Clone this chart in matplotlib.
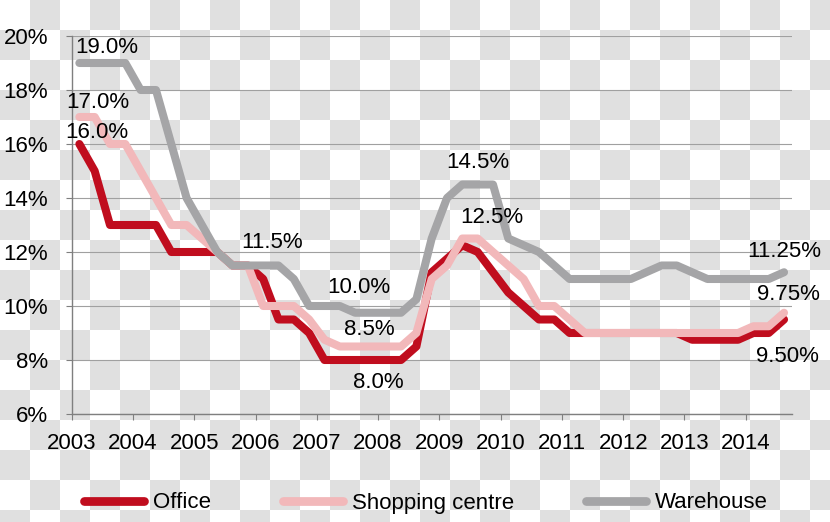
import numpy as np
import matplotlib
matplotlib.use("Agg")
import matplotlib.pyplot as plt

plt.rcParams['font.family'] = ['Liberation Sans', 'DejaVu Sans']

# quarterly prime yields, Q1 2003 .. Q3 2014
quarters = np.arange(47)
years = list(range(2003, 2015))

office = [16, 15, 13, 13, 13, 13, 12, 12, 12, 12, 11.5, 11.5, 11.0, 9.5, 9.5, 9.0,
          8.0, 8.0, 8.0, 8.0, 8.0, 8.0, 8.5, 11.25, 11.75, 12.25, 12.0, 11.25, 10.5, 10.0, 9.5, 9.5,
          9.0, 9.0, 9.0, 9.0, 9.0, 9.0, 9.0, 9.0, 8.75, 8.75, 8.75, 8.75, 9.0, 9.0, 9.5]
shopping = [17, 17, 16, 16, 15, 14, 13, 13, 12.5, 12, 11.5, 11.5, 10.0, 10.0, 10.0, 9.5,
            8.75, 8.5, 8.5, 8.5, 8.5, 8.5, 9.0, 11.0, 11.5, 12.5, 12.5, 12.0, 11.5, 11.0, 10.0, 10.0,
            9.5, 9.0, 9.0, 9.0, 9.0, 9.0, 9.0, 9.0, 9.0, 9.0, 9.0, 9.0, 9.25, 9.25, 9.75]
warehouse = [19, 19, 19, 19, 18, 18, 16, 14, 13, 12, 11.5, 11.5, 11.5, 11.5, 11.0, 10.0,
             10.0, 10.0, 9.75, 9.75, 9.75, 9.75, 10.25, 12.5, 14.0, 14.5, 14.5, 14.5, 12.5, 12.25, 12.0, 11.5,
             11.0, 11.0, 11.0, 11.0, 11.0, 11.25, 11.5, 11.5, 11.25, 11.0, 11.0, 11.0, 11.0, 11.0, 11.25]

names = ['Office', 'Shopping centre', 'Warehouse']
colors = ['#c00d1e', '#f2b8ba', '#a5a5a7']

# value labels: series, quarter, text
label_series = [2, 1, 0, 2, 2, 1, 0, 2, 1, 2, 1, 0]
label_quarter = [0, 0, 0, 12, 16, 19, 20, 26, 26, 46, 46, 46]
label_text = ['19.0%', '17.0%', '16.0%', '11.5%', '10.0%', '8.5%', '8.0%',
              '14.5%', '12.5%', '11.25%', '9.75%', '9.50%']
# offset of label baseline-centre from the point, in pixels (x right, y down)
label_dx = [27.6, 18.6, 17, 8.5, 34.6, -1.4, -7, 0.4, 14, 0, 4, 3.6]
label_dy = [-9.8, -9.3, -6.3, -17.3, -13.3, -11.3, 28.2, -16.3, -15.3, -15.5, -12.5, 42.2]

FS = 16

W, H = 830, 522
fig = plt.figure(figsize=(W / 100, H / 100), dpi=100)

# transparency checkerboard behind the chart
yy, xx = np.mgrid[0:H, 0:W]
board = np.where(((xx // 30) + (yy // 30)) % 2 == 1, 0.88, 1.0)
fig.figimage(np.dstack([board] * 3), xo=0, yo=0, origin='upper', zorder=-1)

ax = fig.add_axes([71.7 / W, 1 - 414 / H, 720 / W, 378 / H])
ax.patch.set_alpha(0)

x = 2003 + (quarters + 0.5) / 4
all_series = [office, shopping, warehouse]
for vals, name, c in zip(all_series, names, colors):
    ax.plot(x, vals, color=c, lw=5.8, label=name,
            solid_capstyle='round', solid_joinstyle='round')

for s, q, t, dx, dy in zip(label_series, label_quarter, label_text, label_dx, label_dy):
    ax.annotate(t, (x[q], all_series[s][q]), xytext=(dx * 0.72, -dy * 0.72),
                textcoords='offset points', ha='center', va='baseline', fontsize=FS)

ax.set_xlim(2003, 2014.75)
ax.set_ylim(6, 20)
ax.set_xticks(years)
ax.set_xticklabels([str(y) for y in years])
yt = list(range(6, 21, 2))
ax.set_yticks(yt)
ax.set_yticklabels([f'{v}%' for v in yt])

ax.yaxis.grid(True, color='#a0a0a0', lw=0.8)
ax.set_axisbelow(True)
for side in ['top', 'right']:
    ax.spines[side].set_visible(False)
for side in ['left', 'bottom']:
    ax.spines[side].set_color('#7f7f7f')
    ax.spines[side].set_linewidth(1.0)

ax.tick_params(axis='both', direction='out', length=4.5, width=0.8, color='#7f7f7f',
               labelsize=FS)
ax.tick_params(axis='y', pad=12.5)
ax.tick_params(axis='x', pad=9)

leg = fig.legend(loc='center left', bbox_to_anchor=(84 / W, 1 - 503 / H), ncol=3,
                 frameon=False, fontsize=FS, handlelength=2.7, handletextpad=0.4,
                 columnspacing=3.25, borderpad=0, borderaxespad=0)
for line in leg.get_lines():
    line.set_linewidth(6.3)

fig.savefig('out.png', dpi=100)
